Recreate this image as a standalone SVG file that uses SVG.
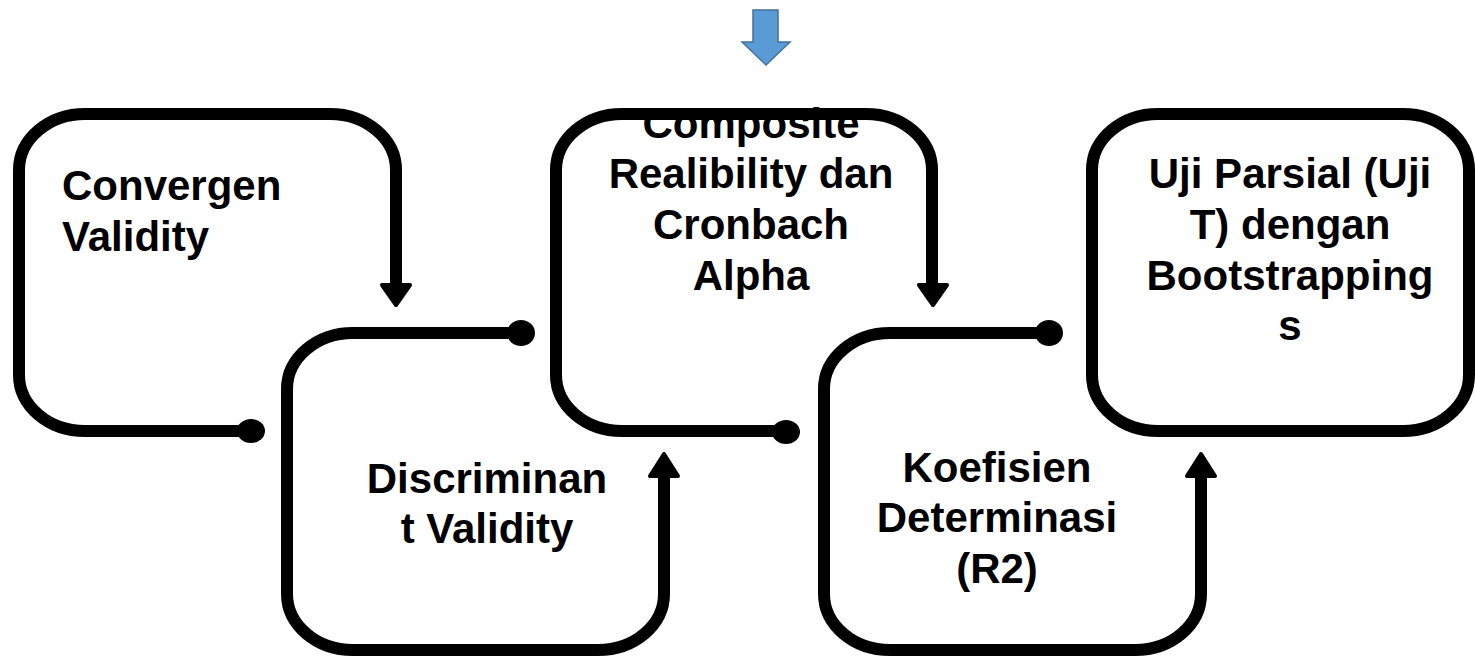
<svg xmlns="http://www.w3.org/2000/svg" width="1475" height="656" viewBox="0 0 1475 656">
  <style>
    .frame { fill: none; stroke: #000; stroke-width: 12; stroke-linecap: butt; stroke-linejoin: round; }
    .head { fill: #000; stroke: #000; stroke-width: 4; stroke-linejoin: round; }
    .dot { fill: #000; }
    .lbl { font-family: "Liberation Sans", Arial, sans-serif; font-weight: bold; font-size: 42px; fill: #000; }
    .c { text-anchor: middle; }
  </style>
  <rect width="1475" height="656" fill="#fff"/>
  <g id="top-arrow">
    <polygon points="753,10 778,10 778,42 790,42 766,65 742,42 753,42" fill="#5B9BD5" stroke="#41719C" stroke-width="1.5"/>
  </g>
  <g id="connectors">
    <path class="frame" d="M251,431 L85,431 A66,56 0 0 1 19,375 L19,170 A66,56 0 0 1 85,114 L330,114 A66,56 0 0 1 396,170 L396,286"/>
    <ellipse class="dot" cx="251" cy="431" rx="14" ry="12"/>
    <polygon class="head" points="382,285 410,285 396,305"/>
    <path class="frame" d="M521,333 L353,333 A66,56 0 0 0 287,389 L287,594 A66,56 0 0 0 353,650 L598,650 A66,56 0 0 0 664,594 L664,474"/>
    <ellipse class="dot" cx="521" cy="333" rx="14" ry="13"/>
    <polygon class="head" points="650,476 678,476 664,454"/>
    <path class="frame" d="M786,431 L622,431 A66,56 0 0 1 556,375 L556,170 A66,56 0 0 1 622,114 L866,114 A66,56 0 0 1 932,170 L932,286"/>
    <ellipse class="dot" cx="786" cy="432" rx="14" ry="12"/>
    <polygon class="head" points="919,285 947,285 933,305"/>
    <path class="frame" d="M1049,333 L890,333 A66,56 0 0 0 824,389 L824,594 A66,56 0 0 0 890,650 L1135,650 A66,56 0 0 0 1201,594 L1201,474"/>
    <ellipse class="dot" cx="1049" cy="333" rx="14" ry="13"/>
    <polygon class="head" points="1187,476 1215,476 1201,454"/>
  </g>
  <g id="node-convergen">
    <text class="lbl" x="62" y="200">Convergen</text>
    <text class="lbl" x="62" y="251">Validity</text>
  </g>
  <g id="node-discriminant">
    <text class="lbl c" x="487" y="493">Discriminan</text>
    <text class="lbl c" x="487" y="543">t Validity</text>
  </g>
  <g id="node-composite">
    <text class="lbl c" x="751" y="137.5">Composite</text>
    <text class="lbl c" x="751" y="188.3">Realibility dan</text>
    <text class="lbl c" x="751" y="239">Cronbach</text>
    <text class="lbl c" x="751" y="290">Alpha</text>
  </g>
  <g id="node-koefisien">
    <text class="lbl c" x="997" y="482">Koefisien</text>
    <text class="lbl c" x="997" y="532">Determinasi</text>
    <text class="lbl c" x="997" y="583">(R2)</text>
  </g>
  <g id="node-uji">
    <rect class="frame" x="1092" y="114" width="377" height="317" rx="66" ry="56"/>
    <text class="lbl c" x="1290" y="188">Uji Parsial (Uji</text>
    <text class="lbl c" x="1290" y="239">T) dengan</text>
    <text class="lbl c" x="1290" y="289.5">Bootstrapping</text>
    <text class="lbl c" x="1290" y="340">s</text>
  </g>
</svg>
